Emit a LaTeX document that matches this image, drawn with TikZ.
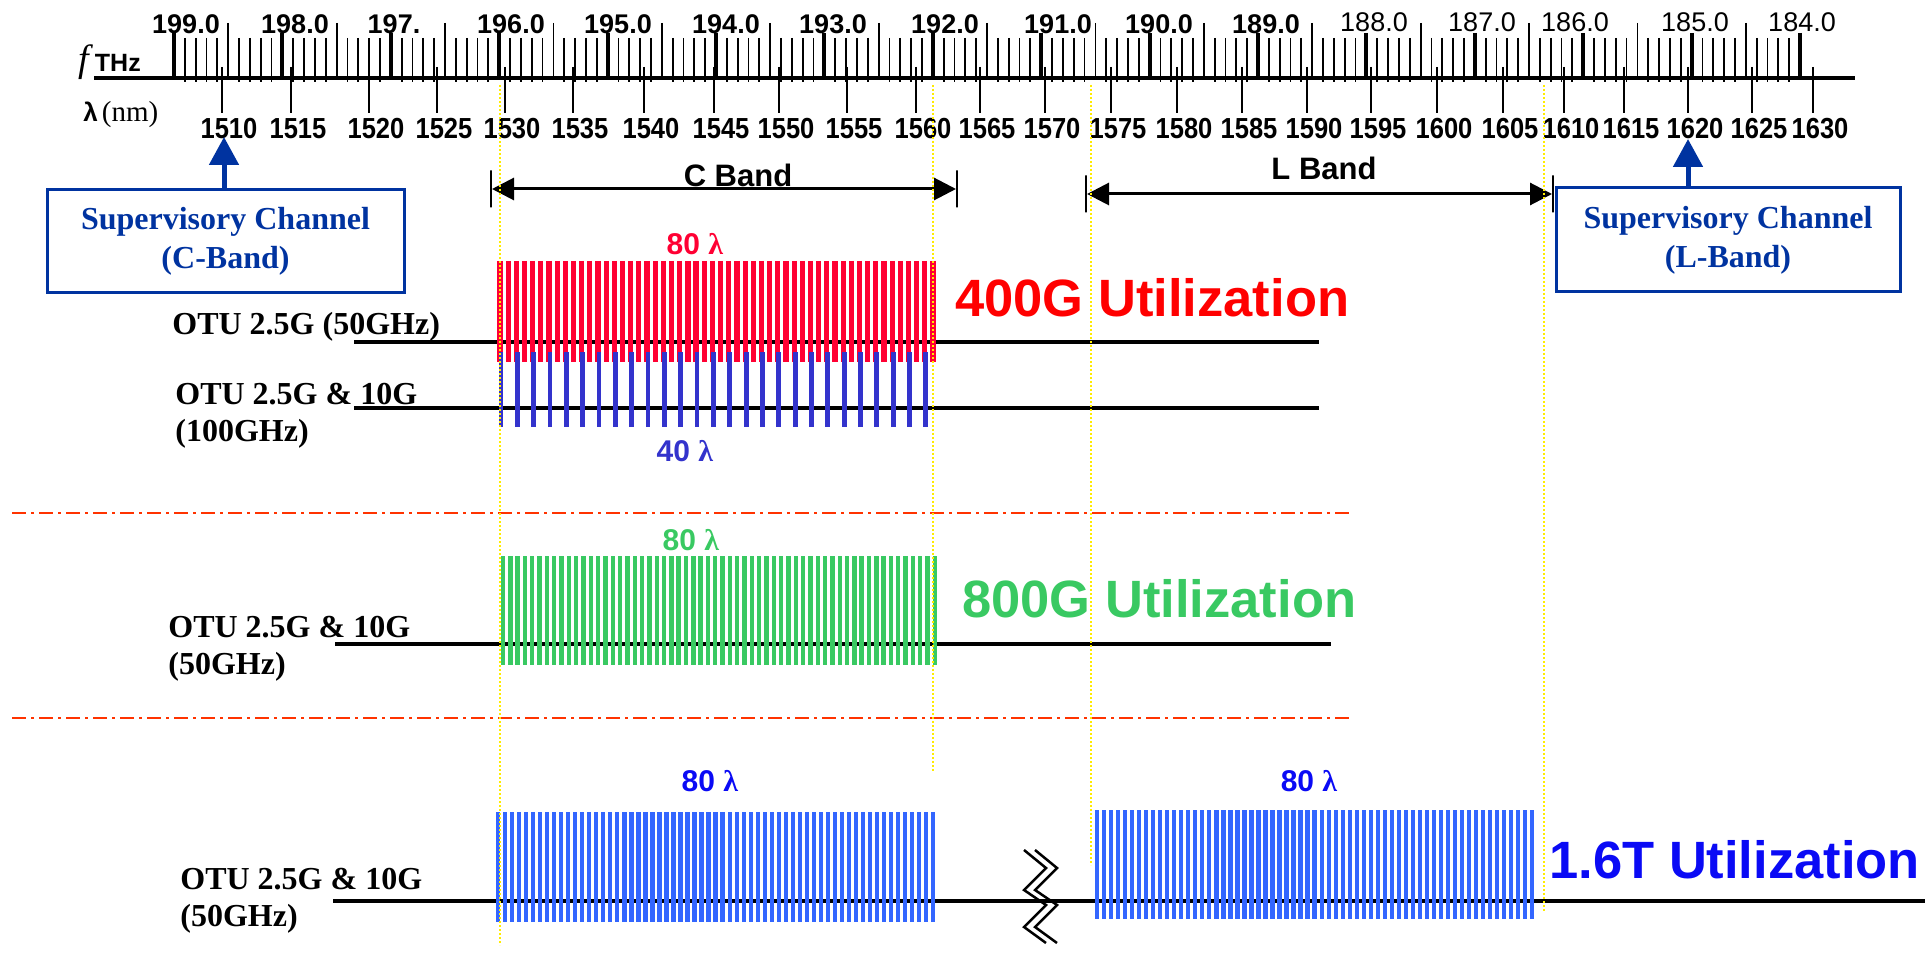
\documentclass[tikz,border=0pt]{standalone}
\usepackage{fontspec}
\setmainfont{Liberation Serif}
\setsansfont{Liberation Sans}
\newfontfamily\narrowsans[FakeStretch=0.88]{Liberation Sans}
\usetikzlibrary{arrows.meta}

\definecolor{supblue}{RGB}{0,51,160}
\definecolor{combred}{RGB}{255,0,51}
\definecolor{combviolet}{RGB}{51,51,204}
\definecolor{combgreen}{RGB}{57,201,98}
\definecolor{wideblue}{RGB}{51,102,255}
\definecolor{deepblue}{RGB}{10,10,245}
\definecolor{splitred}{RGB}{255,51,0}
\definecolor{guideyellow}{RGB}{255,236,0}
\tikzstyle{axisline}=[line width=4.5pt]
\tikzstyle{thztick}=[line width=1.8pt]
\tikzstyle{halftick}=[line width=1.8pt]
\tikzstyle{fulltick}=[line width=4pt]
\tikzstyle{nmtick}=[line width=2pt]
\tikzstyle{thzlabel}=[font=\sffamily\bfseries\fontsize{27}{27}\selectfont,
                     inner sep=0pt]
\tikzstyle{thzlight}=[font=\sffamily\fontsize{27}{27}\selectfont,
                     inner sep=0pt]
\tikzstyle{nmlabel}=[font=\narrowsans\bfseries\fontsize{29}{29}\selectfont,
                    inner sep=0pt]
\tikzstyle{supbox}=[draw=supblue, line width=3pt, text=supblue, align=center,
                   font=\bfseries\fontsize{32}{39}\selectfont]
\tikzstyle{suparrow}=[supblue, line width=5pt,
                     -{Triangle[length=28pt,width=29pt]}]
\tikzstyle{bandbar}=[draw, line width=2pt, minimum width=0pt,
                    minimum height=37pt, inner sep=0pt]
\tikzstyle{bandarrow}=[line width=3pt,
                      {Triangle[length=22pt,width=22pt]}-{Triangle[length=22pt,width=22pt]}]
\tikzstyle{bandtxt}=[font=\sffamily\bfseries\fontsize{31}{31}\selectfont,
                    inner sep=0pt]
\tikzstyle{otuline}=[line width=4.5pt]
\tikzstyle{otulabel}=[font=\bfseries\fontsize{32}{37}\selectfont, align=left,
                     anchor=west, inner sep=0pt]
\tikzstyle{util}=[font=\sffamily\bfseries\fontsize{52.5}{52.5}\selectfont,
                 anchor=west, inner sep=0pt]
\tikzstyle{lamcount}=[font=\sffamily\bfseries\fontsize{30}{30}\selectfont,
                     inner sep=0pt]
\tikzstyle{redcomb}=[combred, line width=5.2pt]
\tikzstyle{violetcomb}=[combviolet, line width=4.8pt]
\tikzstyle{greencomb}=[combgreen, line width=4.4pt]
\tikzstyle{bluecomb}=[wideblue, line width=4.3pt]
\tikzstyle{splitline}=[splitred, line width=1.8pt,
                      dash pattern=on 14pt off 5pt on 3pt off 5pt]
\tikzstyle{guide}=[guideyellow, line width=1.6pt, dash pattern=on 2pt off 2pt]
\tikzstyle{breakmark}=[line width=2.5pt]

\begin{document}
\begin{tikzpicture}[x=1pt, y=-1pt, thick]
  \useasboundingbox (0,0) rectangle (1925,965);
  % Frequency ruler
  \node[anchor=base west, inner sep=0pt] (fthz) at (78,72)
    {{\fontsize{38}{38}\selectfont\itshape f}\hspace{6pt}{\sffamily\bfseries\fontsize{25}{25}\selectfont THz}};
  \node[anchor=west, inner sep=0pt] (lamnm) at (83,115)
    {{\sffamily\bfseries\fontsize{26}{26}\selectfont λ}\hspace{4pt}{\fontsize{29}{29}\selectfont (nm)}};
  \draw[axisline] (94,78) -- (1855,78);
  \foreach \i in {0,...,150} {
    \pgfmathsetmacro{\tx}{174+\i*10.84}
    \pgfmathtruncatemacro{\tk}{mod(\i,10)}
    \ifnum\tk=0 \draw[fulltick] (\tx,33) -- (\tx,77);
    \else\ifnum\tk=5 \draw[halftick] (\tx,23) -- (\tx,79);
    \else \draw[thztick] (\tx,38) -- (\tx,82);
    \fi\fi
  }
  \foreach \xc/\val [count=\k] in {186/199.0, 295/198.0, 394/197., 511/196.0,
           618/195.0, 726/194.0, 833/193.0, 945/192.0, 1058/191.0,
           1159/190.0, 1266/189.0}
    \node[thzlabel] (thz\k) at (\xc,24) {\val};
  \foreach \xc/\val [count=\k] in {1374/188.0, 1482/187.0, 1575/186.0,
           1695/185.0, 1802/184.0}
    \node[thzlight] (thzl\k) at (\xc,22) {\val};
  %
  % Wavelength ruler
  \foreach \lam/\xt in {1510/222, 1515/291, 1520/369, 1525/437, 1530/505,
           1535/573, 1540/644, 1545/714, 1550/779, 1555/847, 1560/916,
           1565/980, 1570/1045, 1575/1111, 1580/1177, 1585/1242, 1590/1307,
           1595/1371, 1600/1437, 1605/1503, 1610/1564, 1615/1624,
           1620/1688, 1625/1752, 1630/1813} {
    \draw[nmtick] (\xt,67) -- (\xt,113);
    \node[nmlabel] (nm\lam) at (\xt+7,129) {\lam};
  }
  %
  % Supervisory channels
  \node[supbox, minimum width=357pt, minimum height=103pt] (supc)
    at (225.5,241.5) {Supervisory Channel\\(C-Band)};
  \node[supbox, minimum width=344pt, minimum height=104pt] (supl)
    at (1728,240) {Supervisory Channel\\(L-Band)};
  \coordinate (tipc) at (224,137);
  \coordinate (tipl) at (1688,139);
  \draw[suparrow] (tipc |- supc.north) -- (tipc);
  \draw[suparrow] (tipl |- supl.north) -- (tipl);
  %
  % Bands
  \node[bandbar] (cbl) at (491,189) {};
  \node[bandbar] (cbr) at (957,189) {};
  \draw[bandarrow] (cbl) -- (cbr);
  \node[bandtxt] (cband) at (738,175) {C Band};
  \node[bandbar] (lbl) at (1086,194) {};
  \node[bandbar] (lbr) at (1553,194) {};
  \draw[bandarrow] (lbl) -- (lbr);
  \node[bandtxt] (lband) at (1324,168) {L Band};
  %
  % Separators
  \draw[splitline] (12,513) -- (1351,513);
  \draw[splitline] (12,718) -- (1351,718);
  %
  % Fibres
  \draw[otuline] (354,342) -- (1319,342);
  \draw[otuline] (354,408) -- (1319,408);
  \draw[otuline] (335,644) -- (1331,644);
  \draw[otuline] (333,901) -- (1925,901);
  %
  % Channel combs
  \foreach \i in {0,...,53}
    {\pgfmathsetmacro{\cx}{500+\i*8.17} \draw[redcomb] (\cx,261) -- (\cx,362);}
  \foreach \i in {0,...,26}
    {\pgfmathsetmacro{\cx}{501+\i*16.34} \draw[violetcomb] (\cx,352) -- (\cx,427);}
  \foreach \i in {0,...,59}
    {\pgfmathsetmacro{\cx}{503+\i*7.32} \draw[greencomb] (\cx,556) -- (\cx,665);}
  \foreach \i in {0,...,62} {
    \pgfmathsetmacro{\cx}{498+\i*7.02} \draw[bluecomb] (\cx,812) -- (\cx,922);
    \pgfmathsetmacro{\cx}{1097+\i*7.02} \draw[bluecomb] (\cx,810) -- (\cx,919);
  }
  %
  % Break
  \draw[breakmark] (1024,850) -- (1046,868) -- (1024,890) -- (1046,905)
                   -- (1024,927) -- (1046,943);
  \draw[breakmark] (1035,850) -- (1057,868) -- (1035,890) -- (1057,905)
                   -- (1035,927) -- (1057,943);
  %
  % Band edges
  \draw[guide] (500,85) -- (500,945);
  \draw[guide] (933,85) -- (933,771);
  \draw[guide] (1091,85) -- (1091,865);
  \draw[guide] (1544,85) -- (1544,912);
  %%%%%%%%
  % Labels
  \node[lamcount, text=combred] (red80) at (695,244) {80 \textrm{λ}};
  \node[lamcount, text=combviolet] (violet40) at (685,451) {40 \textrm{λ}};
  \node[lamcount, text=combgreen] (green80) at (691,540) {80 \textrm{λ}};
  \node[lamcount, text=deepblue] (cblue80) at (710,781) {80 \textrm{λ}};
  \node[lamcount, text=deepblue] (lblue80) at (1309,781) {80 \textrm{λ}};
  \node[util, text=red] (u400) at (955,298) {400G Utilization};
  \node[util, text=combgreen] (u800) at (962,599) {800G Utilization};
  \node[util, text=deepblue] (u16) at (1549,860) {1.6T Utilization};
  \node[otulabel] (otu1) at (172,327) {OTU 2.5G (50GHz)};
  \node[otulabel] (otu2) at (175,416) {OTU 2.5G \& 10G\\(100GHz)};
  \node[otulabel] (otu3) at (168,649) {OTU 2.5G \& 10G\\(50GHz)};
  \node[otulabel] (otu4) at (180,901) {OTU 2.5G \& 10G\\(50GHz)};
\end{tikzpicture}
\end{document}
